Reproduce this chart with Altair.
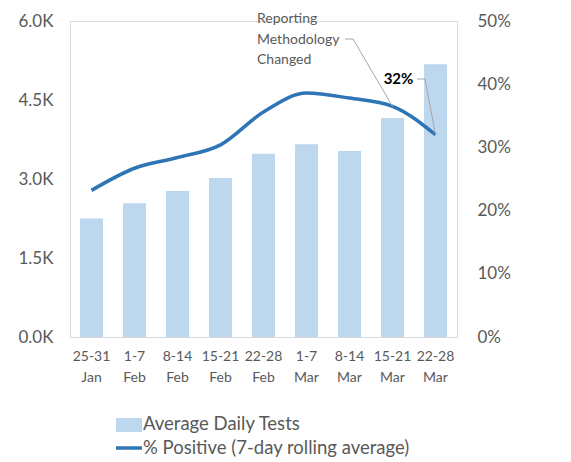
import altair as alt
import pandas as pd

weeks = ["25-31 Jan", "1-7 Feb", "8-14 Feb", "15-21 Feb", "22-28 Feb",
         "1-7 Mar", "8-14 Mar", "15-21 Mar", "22-28 Mar"]
tests = [2250, 2540, 2770, 3020, 3480, 3660, 3530, 4160, 5180]
pct_positive = [0.232, 0.267, 0.284, 0.304, 0.356, 0.386, 0.378, 0.365, 0.32]
test_ticks = [0, 1500, 3000, 4500, 6000]
pct_ticks = [0, 0.1, 0.2, 0.3, 0.4, 0.5]
annotation_lines = ["Reporting", "Methodology", "Changed"]
legend_labels = ["Average Daily Tests", "% Positive (7-day rolling average)"]

df = pd.DataFrame({"week": weeks, "tests": tests, "pct": pct_positive})

FONT = "Lato"
GRAY = "#595959"
DOMAIN = "#D9D9D9"
BAR = "#BDD7EE"
LINE = "#2E75B6"
LEADER = "#A6A6A6"

x_enc = alt.X(
    "week:N", sort=weeks, title=None,
    scale=alt.Scale(paddingInner=0.465, paddingOuter=0.2325),
    axis=alt.Axis(labelAngle=0, labelExpr="split(datum.label, ' ')", ticks=False,
                  domainColor=DOMAIN, labelColor=GRAY, labelFontSize=14,
                  labelLineHeight=21, labelPadding=12, labelFont=FONT),
)

pct_scale = alt.Scale(domain=[0, 0.5], nice=False, zero=True)

bars = alt.Chart(df).mark_bar(color=BAR).encode(
    x=x_enc,
    y=alt.Y("tests:Q", scale=alt.Scale(domain=[0, 6000], nice=False),
            axis=alt.Axis(values=test_ticks,
                          labelExpr="format(datum.value / 1000, '.1f') + 'K'",
                          grid=False, ticks=False, domainColor=DOMAIN,
                          labelPadding=17, labelFontSize=17, labelColor=GRAY,
                          labelFont=FONT, title=None)),
)

line = alt.Chart(df).mark_line(color=LINE, strokeWidth=3.5, interpolate="monotone").encode(
    x=x_enc,
    y=alt.Y("pct:Q", scale=pct_scale,
            axis=alt.Axis(orient="right", values=pct_ticks, format=".0%",
                          grid=False, ticks=False, domainColor=DOMAIN,
                          labelPadding=20, labelFontSize=17, labelColor=GRAY,
                          labelFont=FONT, title=None)),
)

# Annotation: "Reporting Methodology Changed" with leader line to 15-21 Mar point
ann_text = alt.Chart(df).transform_filter(alt.datum.week == "15-21 Mar").mark_text(
    text=annotation_lines, align="left", baseline="middle", font=FONT,
    fontSize=14, color=GRAY, lineHeight=20.5,
).encode(x=alt.value(187), y=alt.value(-2))

lead1a = alt.Chart(df).transform_filter(alt.datum.week == "15-21 Mar").mark_rule(
    color=LEADER, strokeWidth=1).encode(
    x=alt.value(275), x2=alt.value(283), y=alt.value(18))

lead1b = alt.Chart(df).transform_filter(alt.datum.week == "15-21 Mar").mark_rule(
    color=LEADER, strokeWidth=1).encode(
    x=x_enc, y=alt.Y("pct:Q", scale=pct_scale, axis=None),
    x2=alt.value(283), y2=alt.value(18))

# Annotation: final value label
last = alt.Chart(df).transform_filter(alt.datum.week == "22-28 Mar")

val_text = last.mark_text(font=FONT, fontSize=15, fontWeight="bold", color="#000000",
                          dx=-37, dy=-56).encode(
    x=x_enc, y=alt.Y("pct:Q", scale=pct_scale, axis=None),
    text=alt.Text("pct:Q", format=".0%"))

lead2a = last.mark_rule(color=LEADER, strokeWidth=1).encode(
    x=alt.value(347), x2=alt.value(355), y=alt.value(58))

lead2b = last.mark_rule(color=LEADER, strokeWidth=1).encode(
    x=x_enc, y=alt.Y("pct:Q", scale=pct_scale, axis=None),
    x2=alt.value(355), y2=alt.value(58))

# Manual legend below the plot
leg_src = alt.Chart(df).transform_filter(alt.datum.week == "25-31 Jan")
leg_rect = leg_src.mark_rect(color=BAR).encode(
    x=alt.value(46), x2=alt.value(72), y=alt.value(397), y2=alt.value(411))
leg_line = leg_src.mark_rule(color=LINE, strokeWidth=3.5).encode(
    x=alt.value(46), x2=alt.value(72), y=alt.value(427))
leg_t1 = leg_src.mark_text(text=legend_labels[0], align="left", baseline="middle",
                           font=FONT, fontSize=18.5, color=GRAY).encode(
    x=alt.value(73), y=alt.value(403))
leg_t2 = leg_src.mark_text(text=legend_labels[1], align="left", baseline="middle",
                           font=FONT, fontSize=18.5, color=GRAY).encode(
    x=alt.value(73), y=alt.value(427))

chart = alt.layer(
    bars, line, ann_text, lead1a, lead1b, val_text, lead2a, lead2b,
    leg_rect, leg_line, leg_t1, leg_t2,
).resolve_scale(y="independent").properties(
    width=387, height=316, autosize="none",
    padding={"left": 62, "top": 13, "right": 100, "bottom": 120},
).configure_view(stroke=None).configure(background="#FFFFFF")

chart.save("out.html", embed_options={"renderer": "svg", "actions": False})
